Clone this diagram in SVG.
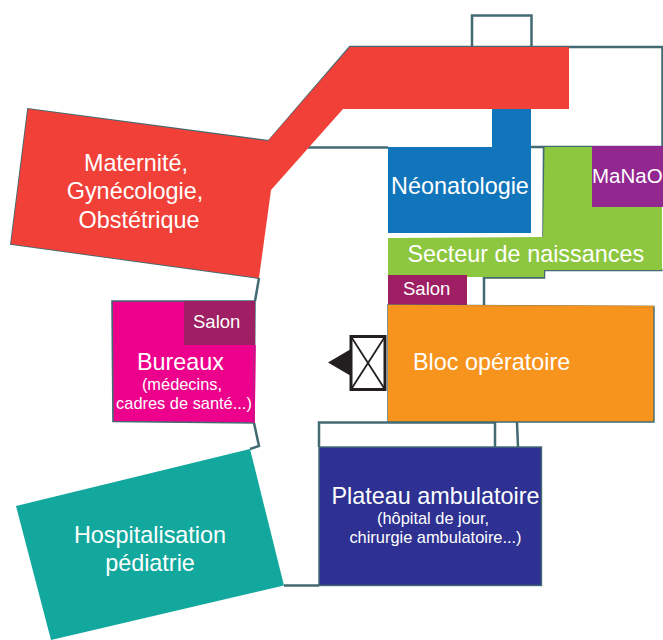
<svg xmlns="http://www.w3.org/2000/svg" width="663" height="640" viewBox="0 0 663 640">
<style>
text{font-family:"Liberation Sans",Arial,sans-serif;fill:#fff}
.l{font-size:23.400px}.m{font-size:18.500px}.s{font-size:16.400px}
.c{text-anchor:middle}
.w{fill:none;stroke:#426a72;stroke-width:2.500}
</style>
<rect width="663" height="640" fill="#fff"/>
<g id="connectors">
<path class="w" d="M472 47V15.500H531.500V47"/>
<path class="w" d="M269 141L350 47H662.500V147H531"/>
<path class="w" d="M308 147.500H388"/>
<path class="w" d="M544 147L543.500 237"/>
<path class="w" d="M662.500 270H544V277.500H484V305"/>
<path class="w" d="M259 278L255 301"/>
<path class="w" d="M254 423L259 446L250 449"/>
<path class="w" d="M319 447V422.500H495V447"/>
<path class="w" d="M517 422L518 447"/>
<path class="w" d="M284 585.500H319"/>
<path class="w" d="M269 141L28 109L11 244L259 278" style="stroke-width:1.800"/>
</g>
<g id="maternite">
<path fill="#f04037" d="M28 109L268 141L350 47H569V109H343L271 190L259 278L11 244Z"/>
<text class="l c" x="136" y="171">Maternité,</text>
<text class="l c" x="135" y="199">Gynécologie,</text>
<text class="l c" x="139" y="228">Obstétrique</text>
</g>
<g id="neonatologie">
<path fill="#1175bb" d="M388 147H492V109H531V233H388Z"/>
<text class="l" x="391" y="194">Néonatologie</text>
</g>
<g id="secteur-naissances">
<path fill="#8dc63f" d="M544.500 147H662V270H544V277H388V238L543 237Z"/>
<text class="l" x="407.500" y="262">Secteur de naissances</text>
</g>
<g id="manao">
<rect x="592" y="146" width="71" height="61" fill="#92278f"/>
<text x="592" y="183" style="font-size:20.500px">MaNaO</text>
</g>
<g id="salon-bloc">
<rect x="388" y="275" width="79" height="30" fill="#9e1f63"/>
<text class="m" x="403" y="295">Salon</text>
</g>
<g id="bloc">
<path fill="#f7941d" stroke="#426a72" stroke-width="1.400" d="M388 305L654 306.500V422H388Z"/>
<path fill="none" stroke="#f7941d" stroke-width="1.500" d="M388.700 305.500L654 306.500M388.700 305V421"/>
<text class="l" x="413" y="370">Bloc opératoire</text>
</g>
<g id="ascenseur">
<rect x="351" y="336.500" width="34" height="53" fill="#fff" stroke="#231f20" stroke-width="3"/>
<path d="M351 336.500L385 389.500M385 336.500L351 389.500" fill="none" stroke="#231f20" stroke-width="1.800"/>
<path d="M328 362.500L351 349V376Z" fill="#231f20"/>
</g>
<g id="bureaux">
<path fill="#ec008c" stroke="#426a72" stroke-width="1.600" d="M112 301H255L254 423L113 421.500Z"/>
<rect x="184" y="301" width="71" height="44" fill="#9e1f63"/>
<path d="M255 345L254 423" fill="none" stroke="#ec008c" stroke-width="1.600"/>
<text class="m" x="193" y="328">Salon</text>
<text class="l c" x="180.500" y="370">Bureaux</text>
<text class="s c" x="182" y="390">(médecins,</text>
<text class="s c" x="184" y="409">cadres de santé...)</text>
</g>
<g id="plateau">
<rect x="319" y="447" width="222.500" height="138.500" fill="#2e3192" stroke="#426a72" stroke-width="1.400"/>
<text class="l" x="331.500" y="504">Plateau ambulatoire</text>
<text class="s c" x="433" y="524">(hôpital de jour,</text>
<text class="s c" x="435.500" y="543">chirurgie ambulatoire...)</text>
</g>
<g id="pediatrie">
<path fill="#12a89d" d="M250 449L284 585.500L51 640L16 506Z"/>
<text class="l c" x="150" y="543">Hospitalisation</text>
<text class="l c" x="150" y="571">pédiatrie</text>
</g>
</svg>
